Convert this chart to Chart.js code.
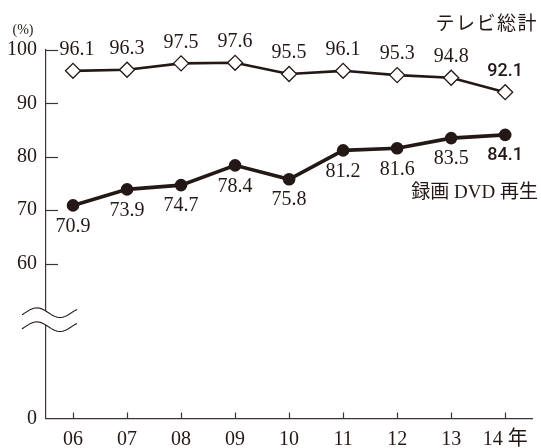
<!DOCTYPE html>
<html>
<head>
<meta charset="utf-8">
<script src="https://cdn.jsdelivr.net/npm/chart.js@4.4.1/dist/chart.umd.min.js"></script>
<style>
  body { margin: 0; background: #fff; }
  #wrap { width: 541px; height: 448px; position: relative; }
</style>
</head>
<body>
<div id="wrap"><canvas id="tv-dvd"></canvas></div>
<script>
const years = ['06', '07', '08', '09', '10', '11', '12', '13', '14 年'];
const tvTotal = [96.1, 96.3, 97.5, 97.6, 95.5, 96.1, 95.3, 94.8, 92.1];
const dvdPlay = [70.9, 73.9, 74.7, 78.4, 75.8, 81.2, 81.6, 83.5, 84.1];
const yTicks = [0, 60, 70, 80, 90, 100];
const axisBase = 31; // where "0" sits on the broken axis

const ink = '#231815';
const serif = "'Liberation Serif', 'Noto Sans CJK JP', serif";

// value labels, tick marks inside the axes, the break symbol and captions
const decor = {
  id: 'decor',
  afterDraw(chart) {
    const ctx = chart.ctx;
    const xs = chart.scales.x, ys = chart.scales.y;
    const area = chart.chartArea;
    ctx.save();

    // inner tick marks
    ctx.strokeStyle = '#3c3533';
    ctx.lineWidth = 1.2;
    yTicks.forEach(v => {
      if (v === 0) return;
      const y = Math.round(ys.getPixelForValue(v)) + 0.5;
      ctx.beginPath();
      ctx.moveTo(area.left, y);
      ctx.lineTo(area.left + 12, y);
      ctx.stroke();
    });
    years.forEach((c, i) => {
      const x = Math.round(xs.getPixelForValue(i)) + 0.5;
      ctx.beginPath();
      ctx.moveTo(x, area.bottom);
      ctx.lineTo(x, area.bottom - 6);
      ctx.stroke();
    });

    // break symbol
    const mid = ys.getPixelForValue(49.5);
    const x0 = area.left - 24, w = 55, A = 4.8, gap = 14;
    const wave = (yc, x) => yc - A * Math.sin(2 * Math.PI * ((x - x0) / w) / 0.84 - 0.45);
    ctx.beginPath();
    for (let x = x0; x <= x0 + w; x++) {
      const y = wave(mid - gap / 2, x);
      x === x0 ? ctx.moveTo(x, y) : ctx.lineTo(x, y);
    }
    for (let x = x0 + w; x >= x0; x--) ctx.lineTo(x, wave(mid + gap / 2, x));
    ctx.closePath();
    ctx.fillStyle = '#fff';
    ctx.fill();
    [mid - gap / 2, mid + gap / 2].forEach(yc => {
      ctx.beginPath();
      for (let x = x0; x <= x0 + w; x++) {
        const y = wave(yc, x);
        x === x0 ? ctx.moveTo(x, y) : ctx.lineTo(x, y);
      }
      ctx.strokeStyle = ink;
      ctx.lineWidth = 1.1;
      ctx.stroke();
    });

    // value labels
    ctx.fillStyle = ink;
    ctx.textAlign = 'center';
    ctx.textBaseline = 'middle';
    chart.data.datasets.forEach((ds, di) => {
      const meta = chart.getDatasetMeta(di);
      meta.data.forEach((pt, i) => {
        const last = i === ds.data.length - 1;
        ctx.font = last ? "500 18px Roboto, 'Liberation Sans', sans-serif" : '20px ' + serif;
        const dy = di === 0 ? -21 : 21;
        const dx = (di === 0 && i === 0) ? 4 : 0;
        ctx.fillText(ds.data[i].toFixed(1), pt.x + dx, pt.y + dy);
      });
    });

    // captions
    ctx.textAlign = 'right';
    ctx.font = "19px 'Noto Sans CJK JP', sans-serif";
    ctx.letterSpacing = '1.5px';
    ctx.fillText('テレビ総計', 538, 23);
    ctx.letterSpacing = '0px';
    ctx.font = '19px ' + serif;
    ctx.fillText('録画 DVD 再生', 538, 193);
    ctx.textAlign = 'center';
    ctx.font = "14px 'Liberation Serif', serif";
    ctx.fillText('(%)', 23, 30);
    ctx.restore();
  }
};

new Chart(document.getElementById('tv-dvd').getContext('2d'), {
  type: 'line',
  data: {
    labels: years,
    datasets: [{
      label: 'テレビ総計',
      data: tvTotal,
      borderColor: ink,
      borderWidth: 2.6,
      pointStyle: 'rectRot',
      pointRadius: 7.5,
      pointBackgroundColor: '#fff',
      pointBorderColor: ink,
      pointBorderWidth: 1.3,
      tension: 0
    }, {
      label: '録画 DVD 再生',
      data: dvdPlay,
      borderColor: ink,
      borderWidth: 3.6,
      pointStyle: 'circle',
      pointRadius: 6.3,
      pointBackgroundColor: ink,
      pointBorderColor: ink,
      pointBorderWidth: 0,
      tension: 0
    }]
  },
  options: {
    responsive: true,
    maintainAspectRatio: false,
    animation: false,
    layout: { padding: { top: 50, right: 2, left: 0, bottom: 0 } },
    scales: {
      x: {
        offset: true,
        grid: { display: false, drawTicks: false },
        border: { display: true, color: '#3c3533', width: 1.2 },
        ticks: { color: ink, font: { family: serif, size: 20 }, padding: 9, maxRotation: 0, autoSkip: false },
        afterFit(scale) { scale.height = 29.5; }
      },
      y: {
        min: axisBase,
        max: 100,
        afterBuildTicks(scale) {
          scale.ticks = yTicks.map(v => ({ value: v === 0 ? axisBase : v }));
        },
        grid: { display: false, drawTicks: false },
        border: { display: true, color: '#3c3533', width: 1.2 },
        ticks: {
          color: ink,
          font: { family: serif, size: 20 },
          padding: 9,
          callback: v => (v === axisBase ? '0' : String(v))
        },
        afterFit(scale) { scale.width = 46; }
      }
    },
    plugins: {
      legend: { display: false },
      tooltip: { enabled: false }
    }
  },
  plugins: [decor]
});
</script>
</body>
</html>
